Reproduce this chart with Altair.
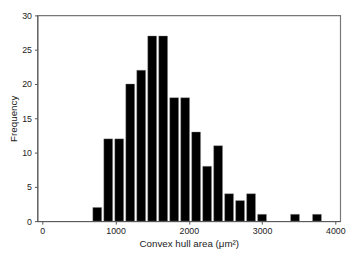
import altair as alt
import pandas as pd

centers = [750, 900, 1050, 1200, 1350, 1500, 1650, 1800, 1950, 2100, 2250, 2400,
           2550, 2700, 2850, 3000, 3450, 3750]
counts = [2, 12, 12, 20, 22, 27, 27, 18, 18, 13, 8, 11, 4, 3, 4, 1, 1, 1]

df = pd.DataFrame({"area": centers, "freq": counts})

font = "Liberation Sans"

chart = alt.Chart(df).mark_bar(size=9, color="black", stroke="#888888", strokeWidth=0.4).encode(
    x=alt.X("area:Q", scale=alt.Scale(domain=[0, 4000], nice=False, zero=True),
            axis=alt.Axis(values=[0, 1000, 2000, 3000, 4000], format="d",
                          title="Convex hull area (μm²)",
                          grid=False, tickSize=3, labelFontSize=9, titleFontSize=10,
                          labelFont=font, titleFont=font, titleFontWeight="normal",
                          domainColor="#555555", tickColor="#555555", labelColor="#222222",
                          titleColor="#222222", labelPadding=3, titlePadding=3)),
    y=alt.Y("freq:Q", scale=alt.Scale(domain=[0, 30], nice=False),
            axis=alt.Axis(values=[0, 5, 10, 15, 20, 25, 30], format="d", title="Frequency",
                          grid=False, tickSize=3, labelFontSize=9, titleFontSize=10,
                          labelFont=font, titleFont=font, titleFontWeight="normal",
                          domainColor="#555555", tickColor="#555555", labelColor="#222222",
                          titleColor="#222222", labelPadding=3, titlePadding=3)),
).properties(
    width=309, height=210,
    autosize=alt.AutoSizeParams(type="none"),
    padding={"left": 30, "top": 5, "right": 10, "bottom": 34},
).configure_view(stroke="#777777", strokeWidth=1.2)

chart.save("out.html", embed_options={"renderer": "svg", "actions": False})
